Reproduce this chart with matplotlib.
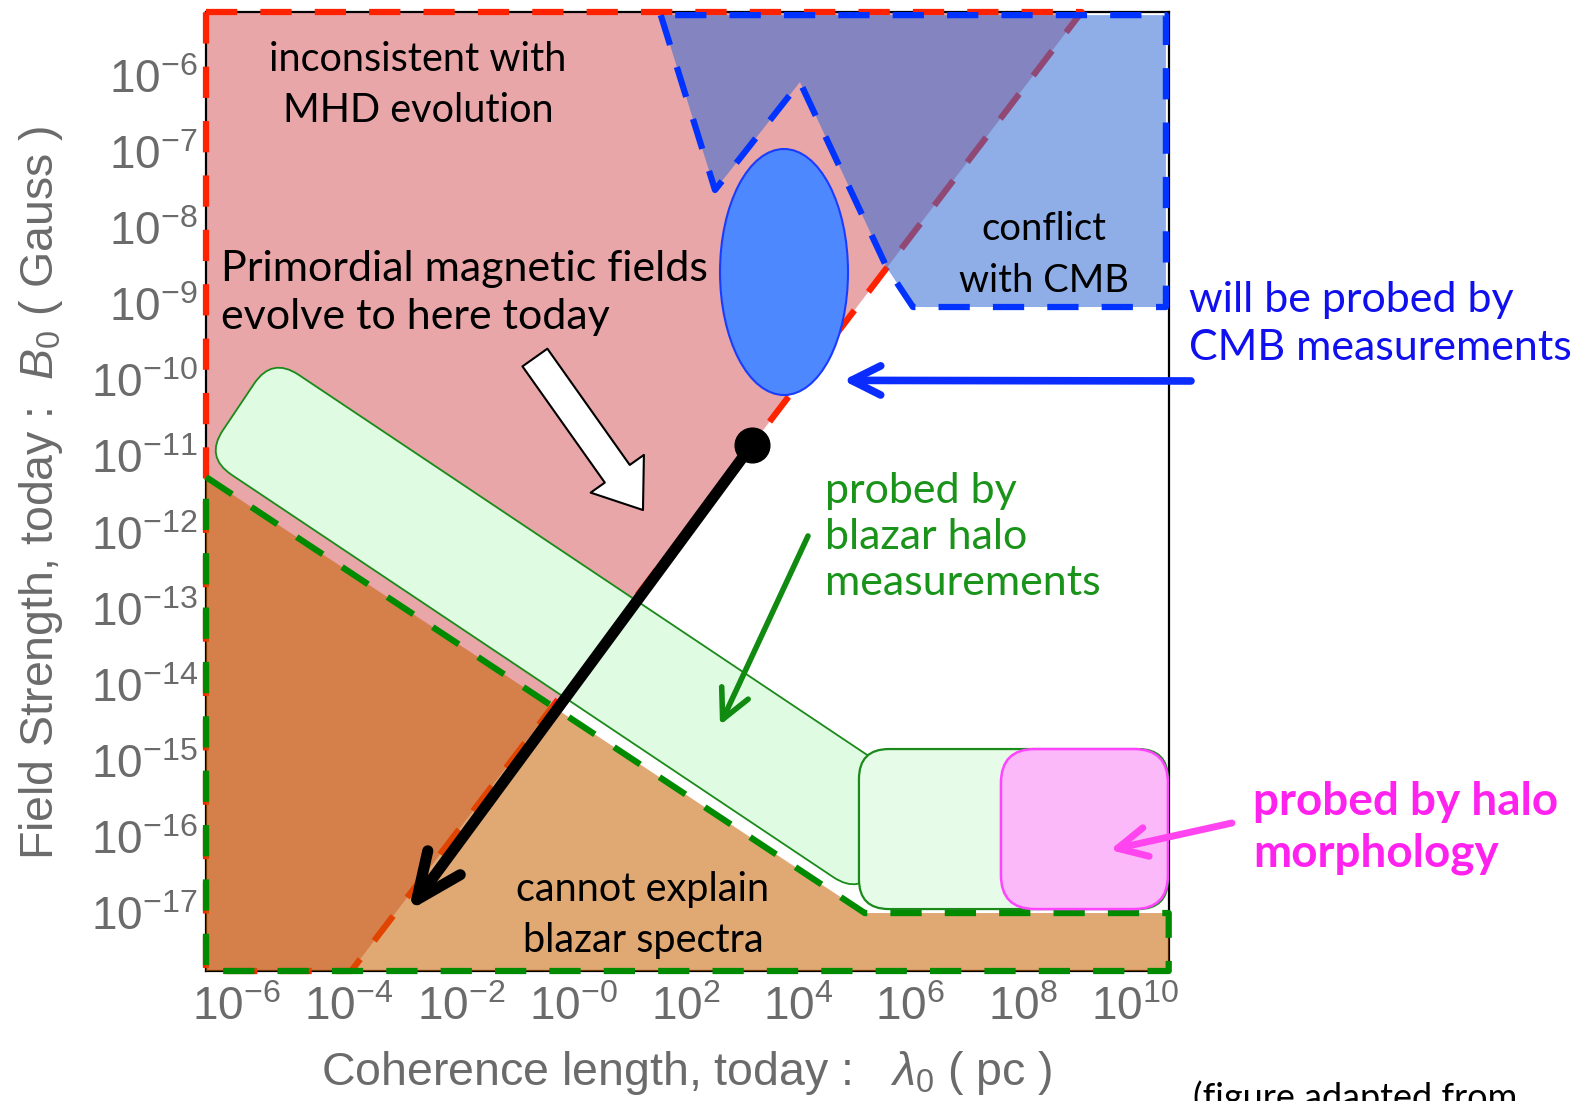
import numpy as np
import matplotlib
matplotlib.use("Agg")
import matplotlib.pyplot as plt
from matplotlib.path import Path
from matplotlib.patches import PathPatch, Ellipse, FancyArrowPatch, Polygon
from matplotlib.patches import ArrowStyle

# ---------------------------------------------------------------------------
# Data (all coordinates are log10 values: x = log10(lambda_0 / pc),
# y = log10(B_0 / Gauss))
# ---------------------------------------------------------------------------
x_ticks = [-6, -4, -2, 0, 2, 4, 6, 8, 10]
x_tick_labels = [r"$10^{-6}$", r"$10^{-4}$", r"$10^{-2}$", r"$10^{-0}$", r"$10^{2}$",
                 r"$10^{4}$", r"$10^{6}$", r"$10^{8}$", r"$10^{10}$"]
y_ticks = [-6, -7, -8, -9, -10, -11, -12, -13, -14, -15, -16, -17]
y_tick_labels = [r"$10^{%d}$" % v for v in y_ticks]

X_MIN, X_MAX = -6.534, 10.605
Y_MIN, Y_MAX = -17.762, -5.159

# region inconsistent with MHD evolution (left of the evolution line)
mhd_x = [X_MIN, 9.05, -3.95, X_MIN]
mhd_y = [Y_MAX, Y_MAX, Y_MIN, Y_MIN]

# region that cannot explain blazar spectra
blazar_x = [X_MIN, 5.19, 10.60, 10.60, X_MIN]
blazar_y = [-11.27, -17.0, -17.0, Y_MIN, Y_MIN]

# region in conflict with the CMB
cmb_x = [1.56, 2.525, 4.037, 5.586, 6.048, 10.55, 10.55]
cmb_y = [-5.20, -7.498, -6.08, -8.523, -9.036, -9.036, -5.20]

# band probed by blazar halo measurements
halo_band_x = [-5.359, 6.298, 5.105, -6.552]
halo_band_y = [-9.693, -15.449, -16.763, -11.007]
halo_rect_x = [5.087, 10.586]
halo_rect_y = [-16.948, -14.845]

# box probed by halo morphology
morph_rect_x = [7.614, 10.586]
morph_rect_y = [-16.948, -14.845]

# region to be probed by CMB measurements
cmb_future_center = (3.753, -8.576)
cmb_future_size = (2.278, 3.233)

# primordial field today and its evolution
today_x, today_y = 3.18, -10.85
evolved_x, evolved_y = -2.957, -17.0

# ---------------------------------------------------------------------------
plt.rcParams['mathtext.fontset'] = 'custom'
plt.rcParams['mathtext.rm'] = 'Liberation Sans'
plt.rcParams['mathtext.it'] = 'Liberation Sans:italic'
plt.rcParams['mathtext.bf'] = 'Liberation Sans:bold'
plt.rcParams['font.family'] = ['Liberation Sans', 'DejaVu Sans']

W, H = 1594, 1101
fig = plt.figure(figsize=(W / 100, H / 100), dpi=100)
ax = fig.add_axes([206 / W, 1 - 971 / H, (1169 - 206) / W, (971 - 12) / H])
ax.set_xlim(X_MIN, X_MAX)
ax.set_ylim(Y_MIN, Y_MAX)

ax.set_xticks(x_ticks)
ax.set_xticklabels(x_tick_labels)
ax.set_yticks(y_ticks)
ax.set_yticklabels(y_tick_labels)
ax.tick_params(length=0, labelsize=33, labelcolor='#6b6b6b')
ax.tick_params(axis='x', pad=11)
ax.tick_params(axis='y', pad=6)
for s in ax.spines.values():
    s.set_linewidth(1.6)
    s.set_zorder(1.5)

TEXT_FONT = ['Lato', 'DejaVu Sans']
DASH_LW = 4.5


def rounded_path(xs, ys, r_px):
    """Closed path through the given data points with rounded corners (radius in pixels)."""
    pts = ax.transData.transform(np.column_stack([xs, ys]))
    n = len(pts)
    verts, codes = [], []
    for i in range(n):
        p, prev, nxt = pts[i], pts[i - 1], pts[(i + 1) % n]
        d1 = (prev - p) / np.linalg.norm(prev - p)
        d2 = (nxt - p) / np.linalg.norm(nxt - p)
        a, b = p + d1 * r_px, p + d2 * r_px
        verts.append(a)
        codes.append(Path.MOVETO if i == 0 else Path.LINETO)
        verts += [p, b]
        codes += [Path.CURVE3, Path.CURVE3]
    verts.append(verts[0])
    codes.append(Path.CLOSEPOLY)
    return Path(ax.transData.inverted().transform(np.array(verts)), codes)


def dashed_outline(xs, ys, color, z):
    xs = list(xs) + [xs[0]]
    ys = list(ys) + [ys[0]]
    ax.plot(xs, ys, color=color, lw=DASH_LW, dashes=(5.0, 3.7), dash_capstyle='butt',
            solid_joinstyle='miter', zorder=z, clip_on=False)


# MHD-inconsistent region
ax.add_patch(Polygon(np.column_stack([mhd_x, mhd_y]), closed=True,
                     facecolor='#e8a6a8', edgecolor='none', zorder=1))
dashed_outline(mhd_x, mhd_y, '#ff2200', 2)

# blazar spectra region
ax.add_patch(Polygon(np.column_stack([blazar_x, blazar_y]), closed=True,
                     facecolor=(0.78, 0.38, 0.0), alpha=0.55, edgecolor='none', zorder=3))

# blazar halo band and box
ax.add_patch(PathPatch(rounded_path(halo_band_x, halo_band_y, 32),
                       facecolor='#dffbe1', edgecolor='#1a8a1a', lw=1.3, zorder=4))
ax.add_patch(PathPatch(rounded_path([halo_rect_x[0], halo_rect_x[1], halo_rect_x[1], halo_rect_x[0]],
                                    [halo_rect_y[1], halo_rect_y[1], halo_rect_y[0], halo_rect_y[0]], 30),
                       facecolor='#e6fbe8', edgecolor='#1a8a1a', lw=1.6, zorder=6))
dashed_outline(blazar_x, blazar_y, '#008a00', 5)

# halo morphology box
ax.add_patch(PathPatch(rounded_path([morph_rect_x[0], morph_rect_x[1], morph_rect_x[1], morph_rect_x[0]],
                                    [morph_rect_y[1], morph_rect_y[1], morph_rect_y[0], morph_rect_y[0]], 34),
                       facecolor='#fbb9f9', edgecolor='#ff44ff', lw=1.8, zorder=6.5))

# CMB conflict region
ax.add_patch(Polygon(np.column_stack([cmb_x, cmb_y]), closed=True,
                     facecolor=(0.20, 0.42, 0.835), alpha=0.55, edgecolor='none', zorder=7))
dashed_outline(cmb_x, cmb_y, '#0033ff', 8)

# future CMB probe
ax.add_patch(Ellipse(cmb_future_center, cmb_future_size[0], cmb_future_size[1],
                     facecolor='#4d88ff', edgecolor='#1a3cff', lw=1.5, zorder=9))

# evolution of primordial fields
ax.add_patch(FancyArrowPatch((today_x, today_y), (evolved_x, evolved_y),
                             arrowstyle=ArrowStyle('->', head_length=33, head_width=14.5),
                             mutation_scale=1, color='black', lw=8, capstyle='round',
                             joinstyle='round', shrinkA=0, shrinkB=2, zorder=10))
ax.plot([today_x], [today_y], 'o', color='black', ms=25, zorder=11)

# white block arrow pointing into the evolved-field area
ax.add_patch(FancyArrowPatch((-0.68, -9.70), (1.243, -11.704),
                             arrowstyle=ArrowStyle('simple', head_length=32, head_width=47, tail_width=22),
                             mutation_scale=1, facecolor='white', edgecolor='black', lw=1.5,
                             shrinkA=0, shrinkB=0, zorder=10))

# pointer arrows
ax.add_patch(FancyArrowPatch((10.996, -10.008), (4.803, -10.0),
                             arrowstyle=ArrowStyle('->', head_length=21, head_width=10.5),
                             mutation_scale=1, color='#0a2cff', lw=5.5, capstyle='round',
                             shrinkA=0, shrinkB=0, zorder=10, clip_on=False))
ax.add_patch(FancyArrowPatch((4.18, -12.045), (2.614, -14.53),
                             arrowstyle=ArrowStyle('->', head_length=21, head_width=10.5),
                             mutation_scale=1, color='#118a11', lw=4, capstyle='round',
                             shrinkA=0, shrinkB=0, zorder=10))
ax.add_patch(FancyArrowPatch((11.725, -15.817), (9.554, -16.172),
                             arrowstyle=ArrowStyle('->', head_length=21, head_width=10.5),
                             mutation_scale=1, color='#ff44f0', lw=5, capstyle='round',
                             shrinkA=0, shrinkB=0, zorder=10, clip_on=False))

# annotations (figure pixel positions converted to figure fractions)
def ftext(px, py, s, **kw):
    fig.text(px / W, 1 - py / H, s, family=TEXT_FONT, **kw)

ftext(418, 85, "inconsistent with\nMHD evolution", fontsize=28.5, ha='center', va='center',
      linespacing=1.45, color='black')
ftext(221, 293, "Primordial magnetic fields\nevolve to here today", fontsize=31, ha='left',
      va='center', linespacing=1.3, color='black')
ftext(1044, 255, "conflict\nwith CMB", fontsize=27.5, ha='center', va='center',
      linespacing=1.53, color='black')
ftext(1189, 324, "will be probed by\nCMB measurements", fontsize=31, ha='left', va='center',
      linespacing=1.31, color='#1010ee')
ftext(825, 537, "probed by\nblazar halo\nmeasurements", fontsize=31, ha='left', va='center',
      linespacing=1.26, color='#1a931a')
ftext(1253, 828, "probed by halo\nmorphology", fontsize=33, ha='left', va='center',
      linespacing=1.3, color='#ff22ee', weight='bold')
ftext(643, 915, "cannot explain\nblazar spectra", fontsize=28.5, ha='center', va='center',
      linespacing=1.45, color='black')
ftext(1193, 1080, "(figure adapted from", fontsize=26, ha='left', va='top', color='black')

# axis titles
fig.text(687 / W, 1 - 1073 / H, r"Coherence length, today :   $\lambda_0$ ( pc )",
         fontsize=33.5, color='#6b6b6b', ha='center', va='center')
fig.text(41 / W, 1 - 493 / H, r"Field Strength, today :  $B_0$ ( Gauss )",
         fontsize=33.5, color='#6b6b6b', ha='center', va='center', rotation=90)

fig.savefig("out.png", dpi=100)
